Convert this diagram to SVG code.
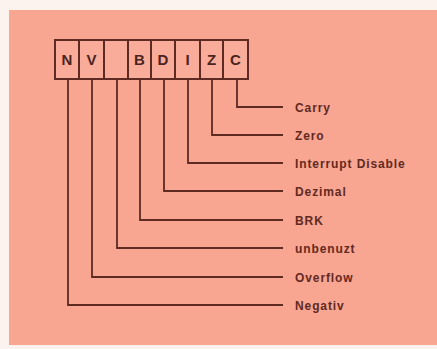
<svg xmlns="http://www.w3.org/2000/svg" width="437" height="349" viewBox="0 0 437 349">
<style>
.cell{fill:#f9ac9a;stroke:#5e2a22;stroke-width:2}
.bit{font-family:"Liberation Sans",Arial,sans-serif;font-weight:bold;font-size:15px;fill:#4a2420;text-anchor:middle}
.lbl{font-family:"Liberation Sans",Arial,sans-serif;font-weight:bold;font-size:12px;letter-spacing:0.9px;fill:#62291f}
.con{fill:none;stroke:#5e2a22;stroke-width:1.8}
</style>
<rect x="0" y="0" width="437" height="349" fill="#fdf3ee"/>
<rect x="9" y="10" width="428" height="335" fill="#f8a692"/>
<g id="register">
<g id="bit-N"><rect class="cell" x="55" y="40" width="24" height="39"/><text class="bit" x="67" y="65">N</text></g>
<g id="bit-V"><rect class="cell" x="79" y="40" width="25" height="39"/><text class="bit" x="91.5" y="65">V</text></g>
<g id="bit-unused"><rect class="cell" x="104" y="40" width="24" height="39"/></g>
<g id="bit-B"><rect class="cell" x="128" y="40" width="23" height="39"/><text class="bit" x="139.5" y="65">B</text></g>
<g id="bit-D"><rect class="cell" x="151" y="40" width="24" height="39"/><text class="bit" x="163" y="65">D</text></g>
<g id="bit-I"><rect class="cell" x="175" y="40" width="25" height="39"/><text class="bit" x="187.5" y="65">I</text></g>
<g id="bit-Z"><rect class="cell" x="200" y="40" width="23" height="39"/><text class="bit" x="211.5" y="65">Z</text></g>
<g id="bit-C"><rect class="cell" x="223" y="40" width="25" height="39"/><text class="bit" x="235.5" y="65">C</text></g>
</g>
<g id="connectors">
<polyline class="con" points="237,79 237,107 283,107"/>
<polyline class="con" points="212,79 212,135 283,135"/>
<polyline class="con" points="188,79 188,163 283,163"/>
<polyline class="con" points="164,79 164,191 283,191"/>
<polyline class="con" points="140,79 140,220 283,220"/>
<polyline class="con" points="117,79 117,248 283,248"/>
<polyline class="con" points="92,79 92,277 283,277"/>
<polyline class="con" points="68,79 68,305 283,305"/>
</g>
<g id="labels">
<g id="label-carry"><text class="lbl" x="295" y="112">Carry</text></g>
<g id="label-zero"><text class="lbl" x="295" y="140">Zero</text></g>
<g id="label-interrupt"><text class="lbl" x="295" y="168">Interrupt Disable</text></g>
<g id="label-dezimal"><text class="lbl" x="295" y="196">Dezimal</text></g>
<g id="label-brk"><text class="lbl" x="295" y="225">BRK</text></g>
<g id="label-unbenuzt"><text class="lbl" x="295" y="253">unbenuzt</text></g>
<g id="label-overflow"><text class="lbl" x="295" y="282">Overflow</text></g>
<g id="label-negativ"><text class="lbl" x="295" y="310">Negativ</text></g>
</g>
</svg>
